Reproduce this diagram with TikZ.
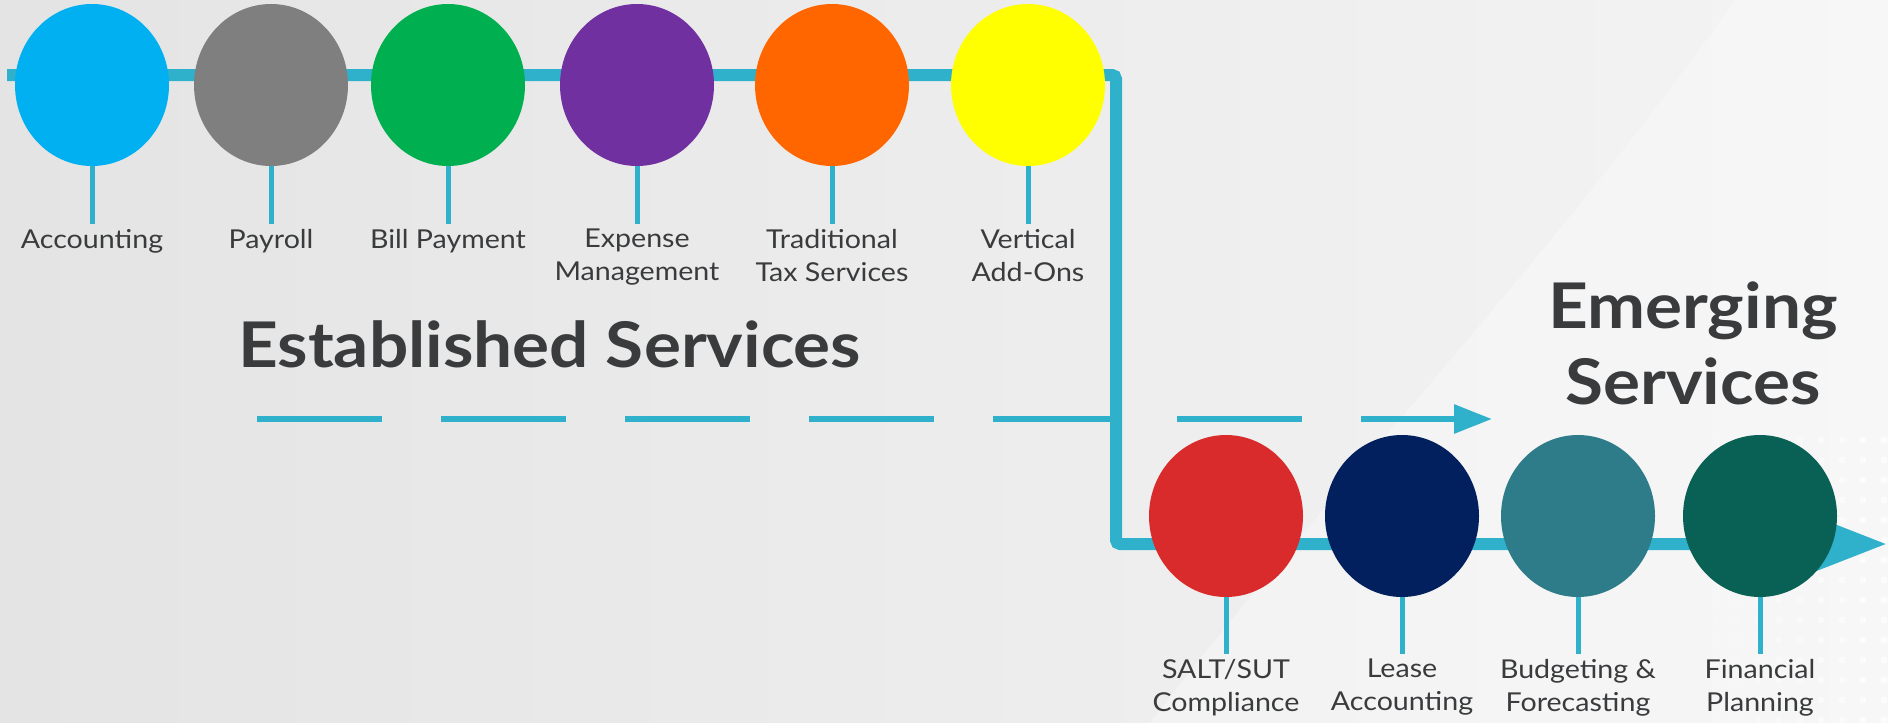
\documentclass[tikz,border=0pt]{standalone}
\usepackage{fontspec}
\setmainfont[FakeStretch=1.1]{Lato}
\usepackage{tikz}
\usetikzlibrary{arrows.meta,positioning,shapes.geometric}

\definecolor{flowblue}{HTML}{2FB1CB}
\definecolor{txtgray}{HTML}{3A3B3D}
\definecolor{bgleft}{HTML}{E4E4E4}
\definecolor{bgright}{HTML}{F4F4F4}
\definecolor{cAcct}{HTML}{00B0F0}
\definecolor{cPay}{HTML}{7F7F7F}
\definecolor{cBill}{HTML}{00B050}
\definecolor{cExp}{HTML}{7030A0}
\definecolor{cTax}{HTML}{FF6600}
\definecolor{cVert}{HTML}{FFFF00}
\definecolor{cSalt}{HTML}{D92B2C}
\definecolor{cLease}{HTML}{021F5E}
\definecolor{cBudget}{HTML}{2E7B89}
\definecolor{cPlan}{HTML}{096155}

\begin{document}
\begin{tikzpicture}[x=1pt,y=-1pt,
    ball/.style={ellipse,minimum width=154pt,minimum height=162pt,
                 inner sep=0pt,outer sep=0pt},
    lbl/.style={align=center,text=txtgray,inner sep=0pt,outer sep=5pt,
                font=\fontsize{26}{33}\selectfont},
    title/.style={align=center,text=txtgray,inner sep=0pt,
                  font=\bfseries\fontsize{63}{76}\selectfont},
    flow/.style={draw=flowblue,line width=12pt,rounded corners=4pt},
    stem/.style={draw=flowblue,line width=5pt}]

  \useasboundingbox (0,0) rectangle (1888,723);
  \fill[left color=bgleft,right color=bgright] (0,0) rectangle (1888,723);
  \fill[white,opacity=0.3] (1735,0) .. controls (1560,250) and (1320,500) .. (1150,723)
       -- (1888,723) -- (1888,0) -- cycle;
  \foreach \i in {0,...,8}
    \foreach \j in {0,...,14}
      \fill[white,opacity=0.15+0.07*\i] (1716+\i*21,440+\j*20) circle (3.5pt);

  % main route
  \coordinate (start) at (7,75);
  \coordinate (bendA) at (1116,75);
  \coordinate (bendB) at (1116,544);
  \coordinate (tip)   at (1887,544);
  \draw[flow,-{Triangle[length=70pt,width=50pt]}] (start) -- (bendA) -- (bendB) -- (tip);

  % dashed route
  \coordinate (dstart) at (257,419);
  \coordinate (dend)   at (1492,419);
  \draw[flowblue,line width=6pt,dash pattern=on 125pt off 59pt,
        -{Triangle[length=38pt,width=28pt]}] (dstart) -- (dend);

  \node[title,anchor=base west] (estab) at (238,367) {Established Services};
  \node[title] (emerg) at (1693,343) {Emerging\\Services};

  \node[ball,fill=cAcct]   (acct)    at (92,85)          {};
  \node[ball,fill=cPay]    (payroll) [right=25pt of acct]    {};
  \node[ball,fill=cBill]   (bill)    [right=23pt of payroll] {};
  \node[ball,fill=cExp]    (expense) [right=35pt of bill]    {};
  \node[ball,fill=cTax]    (tax)     [right=41pt of expense] {};
  \node[ball,fill=cVert]   (vert)    [right=42pt of tax]     {};

  \node[ball,fill=cSalt]   (salt)    at (1226,516)       {};
  \node[ball,fill=cLease]  (lease)   [right=22pt of salt]    {};
  \node[ball,fill=cBudget] (budget)  [right=22pt of lease]   {};
  \node[ball,fill=cPlan]   (plan)    [right=28pt of budget]  {};

  \node[lbl] (acctlbl)    [below=58pt of acct]    {Accounting};
  \node[lbl] (payrolllbl) [below=58pt of payroll] {Payroll};
  \node[lbl] (billlbl)    [below=58pt of bill]    {Bill Payment};
  \node[lbl] (expenselbl) [below=58pt of expense] {Expense\\Management};
  \node[lbl] (taxlbl)     [below=58pt of tax]     {Traditional\\Tax Services};
  \node[lbl] (vertlbl)    [below=58pt of vert]    {Vertical\\Add-Ons};

  \node[lbl] (saltlbl)    [below=57pt of salt]    {SALT/SUT\\Compliance};
  \node[lbl] (leaselbl)   [below=57pt of lease]   {Lease\\Accounting};
  \node[lbl] (budgetlbl)  [below=57pt of budget]  {Budgeting \&\\Forecasting};
  \node[lbl] (planlbl)    [below=57pt of plan]    {Financial\\Planning};

  \foreach \n in {acct,payroll,bill,expense,tax,vert,salt,lease,budget,plan}
    \draw[stem] (\n.south) -- (\n lbl.north);
\end{tikzpicture}
\end{document}
